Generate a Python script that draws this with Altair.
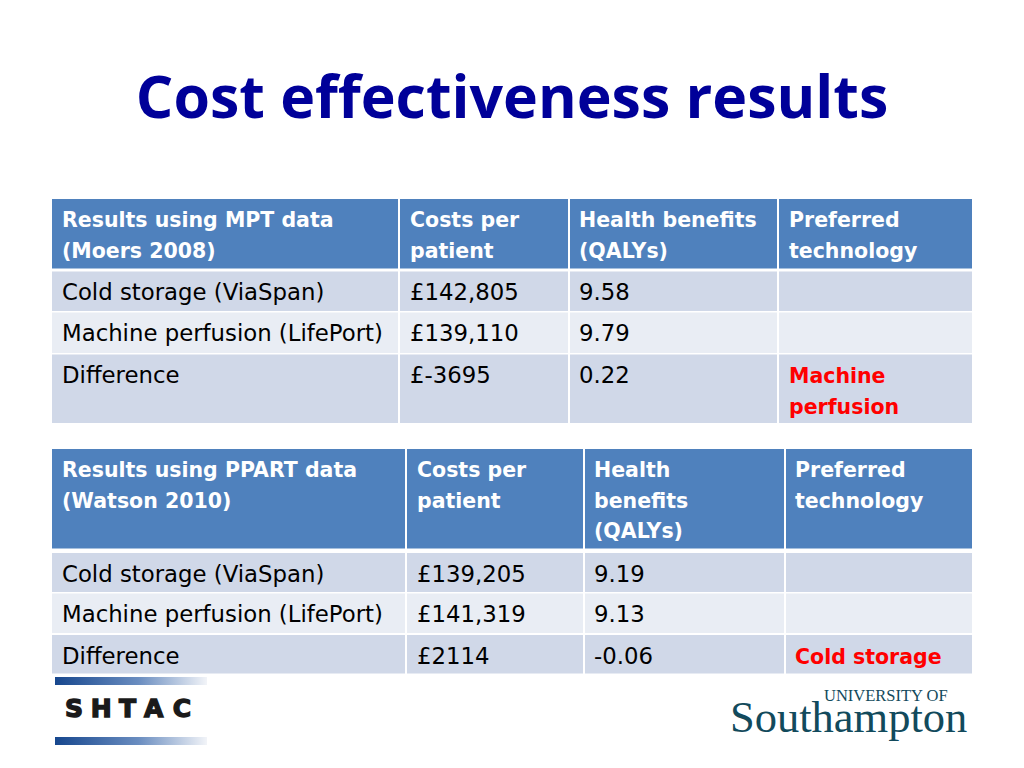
import altair as alt
import pandas as pd

# ---------------- content ----------------
title_text = "Cost effectiveness results"

t1_header = ["Results using MPT data\n(Moers 2008)", "Costs per\npatient",
             "Health benefits\n(QALYs)", "Preferred\ntechnology"]
t1_strategy = ["Cold storage (ViaSpan)", "Machine perfusion (LifePort)", "Difference"]
t1_cost = ["£142,805", "£139,110", "£-3695"]
t1_qaly = ["9.58", "9.79", "0.22"]
t1_preferred = ["", "", "Machine\nperfusion"]

t2_header = ["Results using PPART data\n(Watson 2010)", "Costs per\npatient",
             "Health\nbenefits\n(QALYs)", "Preferred\ntechnology"]
t2_strategy = ["Cold storage (ViaSpan)", "Machine perfusion (LifePort)", "Difference"]
t2_cost = ["£139,205", "£141,319", "£2114"]
t2_qaly = ["9.19", "9.13", "-0.06"]
t2_preferred = ["", "", "Cold storage"]

logo_left = "SHTAC"
logo_right_small = "UNIVERSITY OF"
logo_right_big = "Southampton"

# ---------------- layout (page pixels) ----------------
PAGE_W, PAGE_H, MARGIN = 1024, 768, 8
W, H = PAGE_W - 2 * MARGIN, PAGE_H - 2 * MARGIN

HEADER_BLUE = "#4F81BD"
BAND_DARK = "#D0D8E8"
BAND_LIGHT = "#E9EDF4"
TITLE_BLUE = "#000099"
RED = "#FF0000"
LOGO_TEAL = "#124A5C"
BODY_FONT = "DejaVu Sans"

tables = [
    dict(header=t1_header, cols=[t1_strategy, t1_cost, t1_qaly, t1_preferred],
         col_edges=[(52, 398), (400, 568), (570, 777), (779, 972)],
         row_edges=[(199, 268.5), (271.5, 311), (312.5, 353), (354.5, 423)],
         text_x=[62, 410, 579, 789]),
    dict(header=t2_header, cols=[t2_strategy, t2_cost, t2_qaly, t2_preferred],
         col_edges=[(52, 405), (407, 583), (585, 784), (786, 972)],
         row_edges=[(449, 548.5), (553, 592), (593.5, 633), (635, 673.5)],
         text_x=[62, 417, 594, 795]),
]

cells, head_txt, body_txt, pref_txt = [], [], [], []
for t in tables:
    for r, (y0, y1) in enumerate(t["row_edges"]):
        fill = HEADER_BLUE if r == 0 else (BAND_DARK if r % 2 == 1 else BAND_LIGHT)
        for c, (x0, x1) in enumerate(t["col_edges"]):
            cells.append(dict(x=x0, x2=x1, y=y0, y2=y1, fill=fill))
    for c, label in enumerate(t["header"]):
        head_txt.append(dict(x=t["text_x"][c], y=t["row_edges"][0][0] + 28, text=label))
    for r in range(3):
        y = t["row_edges"][r + 1][0] + 28.5
        for c in range(3):
            body_txt.append(dict(x=t["text_x"][c], y=y, text=t["cols"][c][r]))
        if t["cols"][3][r]:
            pref_txt.append(dict(x=t["text_x"][3], y=y, text=t["cols"][3][r]))

xs = alt.Scale(domain=[MARGIN, PAGE_W - MARGIN], nice=False, zero=False)
ys = alt.Scale(domain=[MARGIN, PAGE_H - MARGIN], nice=False, zero=False, reverse=True)
X = alt.X("x:Q", scale=xs, axis=None)
Y = alt.Y("y:Q", scale=ys, axis=None)

cell_layer = alt.Chart(pd.DataFrame(cells)).mark_rect().encode(
    x=X, x2="x2:Q", y=Y, y2="y2:Q",
    color=alt.Color("fill:N", scale=None))

head_layer = alt.Chart(pd.DataFrame(head_txt)).mark_text(
    align="left", baseline="alphabetic", font=BODY_FONT, fontSize=20.5,
    fontWeight="bold", color="white", lineBreak="\n", lineHeight=30.5
).encode(x=X, y=Y, text="text:N")

body_layer = alt.Chart(pd.DataFrame(body_txt)).mark_text(
    align="left", baseline="alphabetic", font=BODY_FONT, fontSize=22.8,
    color="black", lineBreak="\n", lineHeight=30.5
).encode(x=X, y=Y, text="text:N")

pref_layer = alt.Chart(pd.DataFrame(pref_txt)).mark_text(
    align="left", baseline="alphabetic", font=BODY_FONT, fontSize=20.5,
    fontWeight="bold", color=RED, lineBreak="\n", lineHeight=30.5
).encode(x=X, y=Y, text="text:N")

title_layer = alt.Chart(pd.DataFrame([dict(x=512, y=118, text=title_text)])).mark_text(
    align="center", baseline="alphabetic", font="Open Sans", fontSize=59,
    fontWeight="bold", color=TITLE_BLUE
).encode(x=X, y=Y, text="text:N")

# SHTAC logo: two gradient bars and the letters
bars = pd.DataFrame([dict(x=55, x2=207, y=677, y2=685),
                     dict(x=55, x2=207, y=737, y2=745)])
grad = alt.LinearGradient(
    gradient="linear", x1=0, x2=1, y1=0, y2=0,
    stops=[alt.GradientStop(color="#17478E", offset=0),
           alt.GradientStop(color="#6A8DC0", offset=0.55),
           alt.GradientStop(color="#F2F4F8", offset=1)])
bar_layer = alt.Chart(bars).mark_rect(color=grad).encode(x=X, x2="x2:Q", y=Y, y2="y2:Q")

letter_w = [0.667, 0.722, 0.611, 0.722, 0.722]
lx0, lx1 = 61, 196
unit = (lx1 - lx0) / sum(letter_w)
acc, letters = 0.0, []
for ch, w in zip(logo_left, letter_w):
    letters.append(dict(x=lx0 + (acc + w / 2) * unit, y=717, text=ch))
    acc += w
shtac_layer = alt.Chart(pd.DataFrame(letters)).mark_text(
    align="center", baseline="alphabetic", font="DejaVu Sans", fontSize=25,
    fontWeight="bold", color="#1A1A1A", stroke="#1A1A1A", strokeWidth=1.4
).encode(x=X, y=Y, text="text:N")

soton_small = alt.Chart(pd.DataFrame([dict(x=824, y=701, text=logo_right_small)])).mark_text(
    align="left", baseline="alphabetic", font="Liberation Serif", fontSize=16.5,
    color=LOGO_TEAL
).encode(x=X, y=Y, text="text:N")
soton_big = alt.Chart(pd.DataFrame([dict(x=730, y=732, text=logo_right_big)])).mark_text(
    align="left", baseline="alphabetic", font="Liberation Serif", fontSize=44.5,
    color=LOGO_TEAL
).encode(x=X, y=Y, text="text:N")

chart = alt.layer(
    cell_layer, head_layer, body_layer, pref_layer, title_layer,
    bar_layer, shtac_layer, soton_small, soton_big
).properties(width=W, height=H, padding=0, background="white").configure_view(stroke=None)

chart.save("out.html", embed_options={"renderer": "svg", "actions": False})
